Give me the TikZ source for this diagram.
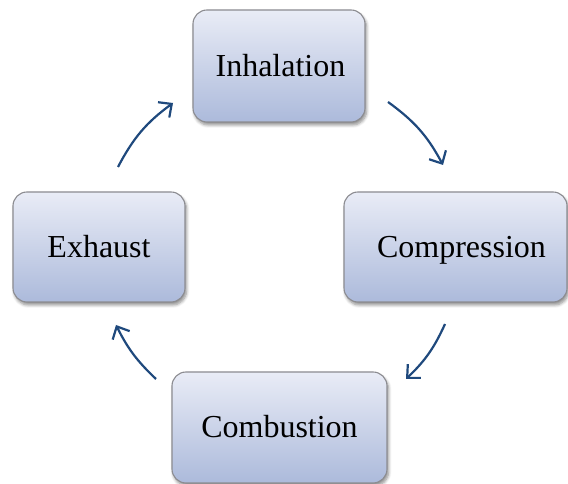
\documentclass[tikz,border=0pt]{standalone}
\usepackage{fontspec}
\setmainfont{Liberation Serif}
\usetikzlibrary{arrows.meta,shadows.blur}
\definecolor{boxtop}{RGB}{233,236,246}
\definecolor{boxbot}{RGB}{172,186,219}
\definecolor{boxline}{RGB}{140,140,145}
\definecolor{arrowblue}{RGB}{31,73,125}
\tikzset{
  stage/.style={draw=boxline, line width=1.1pt, rounded corners=14pt,
    top color=boxtop, bottom color=boxbot,
    blur shadow={shadow blur steps=6, shadow xshift=1.5pt, shadow yshift=-3pt, shadow opacity=45, shadow blur radius=3pt},
    font=\fontsize{32}{36}\selectfont, inner sep=0pt, text height=21pt, text depth=0pt},
  cyc/.style={draw=arrowblue, line width=2.2pt,
    -{Straight Barb[length=10pt,width=19pt,line width=2.2pt]}}
}
\begin{document}
\begin{tikzpicture}[x=1pt,y=1pt]
\useasboundingbox (0,0) rectangle (568,484);
\node[stage, minimum width=172pt, minimum height=112pt] (inh) at (279,418) {\hspace*{3pt}Inhalation};
\node[stage, minimum width=223pt, minimum height=110pt] (comp) at (455.5,237) {\hspace*{12pt}Compression};
\node[stage, minimum width=215pt, minimum height=111pt] (comb) at (279.5,56.5) {Combustion};
\node[stage, minimum width=172pt, minimum height=110pt] (exh) at (99,237) {Exhaust};
\coordinate (a1s) at (118,317); \coordinate (a1e) at (173,381);
\coordinate (a2s) at (388,382); \coordinate (a2e) at (443,319);
\coordinate (a3s) at (445,160); \coordinate (a3e) at (406,105);
\coordinate (a4s) at (156,105); \coordinate (a4e) at (116,159);
\draw[cyc] (a1s) to[bend left=13] (a1e);
\draw[cyc] (a2s) to[bend left=13] (a2e);
\draw[cyc] (a3s) to[bend left=11] (a3e);
\draw[cyc] (a4s) to[bend left=10] (a4e);
\end{tikzpicture}
\end{document}
